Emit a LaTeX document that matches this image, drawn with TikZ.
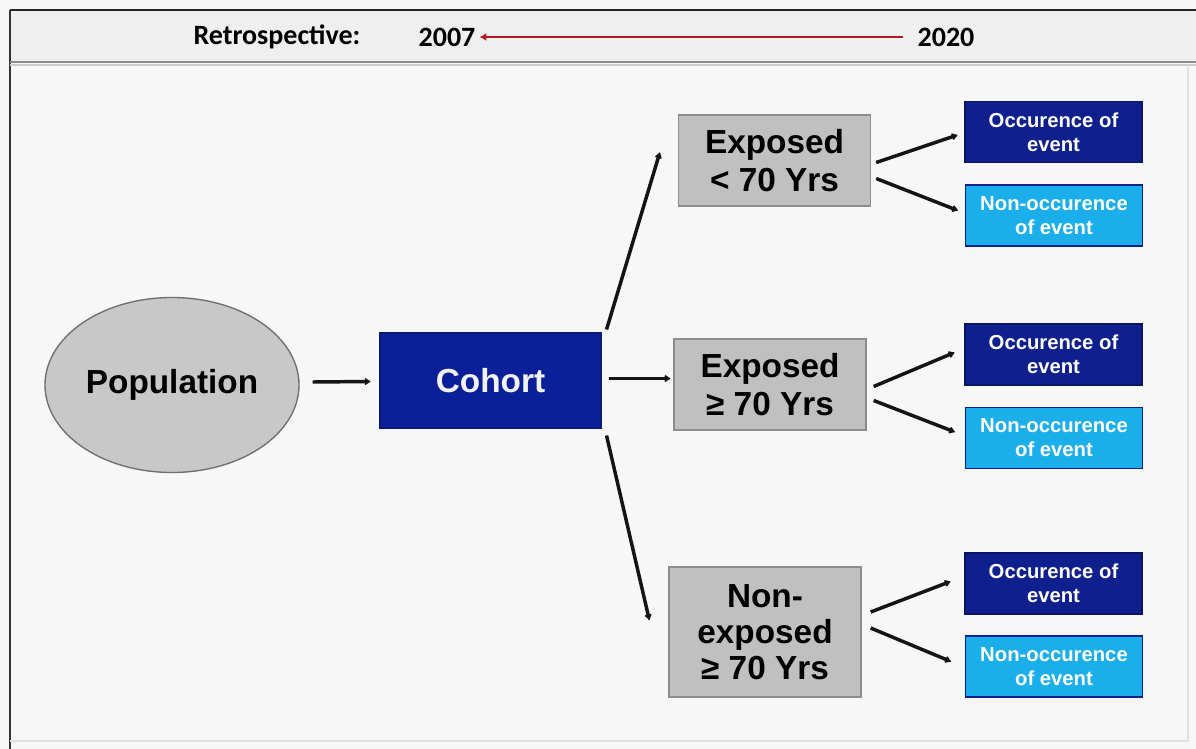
\documentclass[tikz,border=0pt]{standalone}
\usepackage{fontspec}
\setmainfont{Liberation Sans}
\newfontfamily\hdrfont{Carlito}
\usetikzlibrary{arrows.meta,shapes.geometric}
\definecolor{pagebg}{HTML}{F7F7F7}
\definecolor{hdrbg}{HTML}{EFEFEF}
\definecolor{grayfill}{HTML}{C0C0C0}
\definecolor{grayedge}{HTML}{8C8C8C}
\definecolor{popfill}{HTML}{C8C8C8}
\definecolor{popedge}{HTML}{6E6E6E}
\definecolor{navy}{HTML}{0A1F98}
\definecolor{darkbox}{HTML}{0F1F8E}
\definecolor{lightbox}{HTML}{1AAEEA}
\definecolor{redline}{HTML}{B3191F}
\newcommand\pu{*0.75pt}
\begin{document}
\begin{tikzpicture}[x=0.75pt,y=-0.75pt,
  bigtxt/.style={font=\fontsize{25}{28}\selectfont\bfseries, align=center, inner sep=0pt},
  smalltxt/.style={font=\fontsize{15.2}{18}\selectfont\bfseries, align=center, inner sep=0pt, text=white},
  popnode/.style={ellipse, draw=popedge, line width=1pt, fill=popfill, bigtxt},
  cohortbox/.style={rectangle, draw=navy!80!black, line width=0.8pt, fill=navy, bigtxt, text=white!95!black},
  graybox/.style={rectangle, draw=grayedge, line width=1pt, fill=grayfill, bigtxt, minimum width=192\pu},
  occbox/.style={rectangle, draw=darkbox!70!black, line width=0.8pt, fill=darkbox, smalltxt, minimum width=177\pu, minimum height=61\pu},
  nonbox/.style={rectangle, draw=darkbox, line width=1pt, fill=lightbox, smalltxt, minimum width=177\pu, minimum height=61\pu},
  conn/.style={line width=2.6pt, black!92, -{Latex[length=5pt,width=6.5pt,round]}},
  hdr/.style={font=\hdrfont\fontsize{21}{24}\selectfont\bfseries, inner sep=0pt}
]
\useasboundingbox (0,0) rectangle (1196,749);
\fill[pagebg] (0,0) rectangle (1196,749);
\fill[hdrbg] (10,10) rectangle (1196,62);
\draw[black!85, line width=1.2pt] (10,10) -- (1196,10);
\draw[black!80, line width=1pt] (10,10) -- (10,749);
\draw[black!45, line width=1.2pt] (10,62) -- (1196,62);
\draw[black!20, line width=0.8pt] (10,65) -- (1196,65);
\draw[black!12, line width=0.8pt] (10,741) -- (1188,741) -- (1188,65);

% header
\node[hdr] (retro) at (277,37) {Retrospective:};
\node[hdr] (y07) at (447,37) {2007};
\node[hdr] (y20) at (946,37) {2020};
\draw[redline, line width=2.2pt, -{Latex[length=5pt,width=6pt]}] (y20.west) ++(-14,0) coordinate (r0) -- ([xshift=4\pu]y07.east |- r0);

% nodes
\node[popnode, minimum width=254\pu, minimum height=175\pu] (pop) at (172,385) {Population};
\node[cohortbox, minimum width=221\pu, minimum height=95\pu] (coh) at (490.5,380.5) {Cohort};

\node[graybox, minimum height=91\pu] (g1) at (774.5,160.5) {Exposed\\\textless{} 70 Yrs};
\node[graybox, minimum height=91\pu] (g2) at (770,384.5) {Exposed\\≥ 70 Yrs};
\node[graybox, minimum height=130\pu, font=\fontsize{25}{27}\selectfont\bfseries] (g3) at (765,632) {Non-\\exposed\\≥ 70 Yrs};

\node[occbox] (o1) at (1053.5,132) {Occurence of\\event};
\node[nonbox] (n1) at (1054,215.5) {Non-occurence\\of event};
\node[occbox] (o2) at (1053.5,354.5) {Occurence of\\event};
\node[nonbox] (n2) at (1054,438) {Non-occurence\\of event};
\node[occbox] (o3) at (1053.5,583.5) {Occurence of\\event};
\node[nonbox] (n3) at (1054,666.5) {Non-occurence\\of event};

% connectors
\draw[conn] ([xshift=13\pu,yshift=3\pu]pop.east) -- ([xshift=-9\pu,yshift=-1\pu]coh.west);
\draw[conn] ([xshift=7\pu,yshift=2\pu]coh.east) -- ([xshift=-3\pu,yshift=6\pu]g2.west);
\draw[conn] ([shift={(5,-3)}]coh.north east) -- ([shift={(-18,-8)}]g1.west);
\draw[conn] ([shift={(5,7)}]coh.south east) -- ([shift={(-19,-12)}]g3.west);

\draw[conn] ([shift={(5,2)}]g1.east) -- ([shift={(-7,3)}]o1.west);
\draw[conn] ([shift={(5,18)}]g1.east) -- ([shift={(-7,-5)}]n1.west);
\draw[conn] ([shift={(7,2)}]g2.east) -- ([shift={(-10,-2)}]o2.west);
\draw[conn] ([shift={(7,16)}]g2.east) -- ([shift={(-10,-6)}]n2.west);
\draw[conn] ([shift={(9,-20)}]g3.east) -- ([shift={(-14,-2)}]o3.west);
\draw[conn] ([shift={(9,-4)}]g3.east) -- ([shift={(-14,-5)}]n3.west);
\end{tikzpicture}
\end{document}
